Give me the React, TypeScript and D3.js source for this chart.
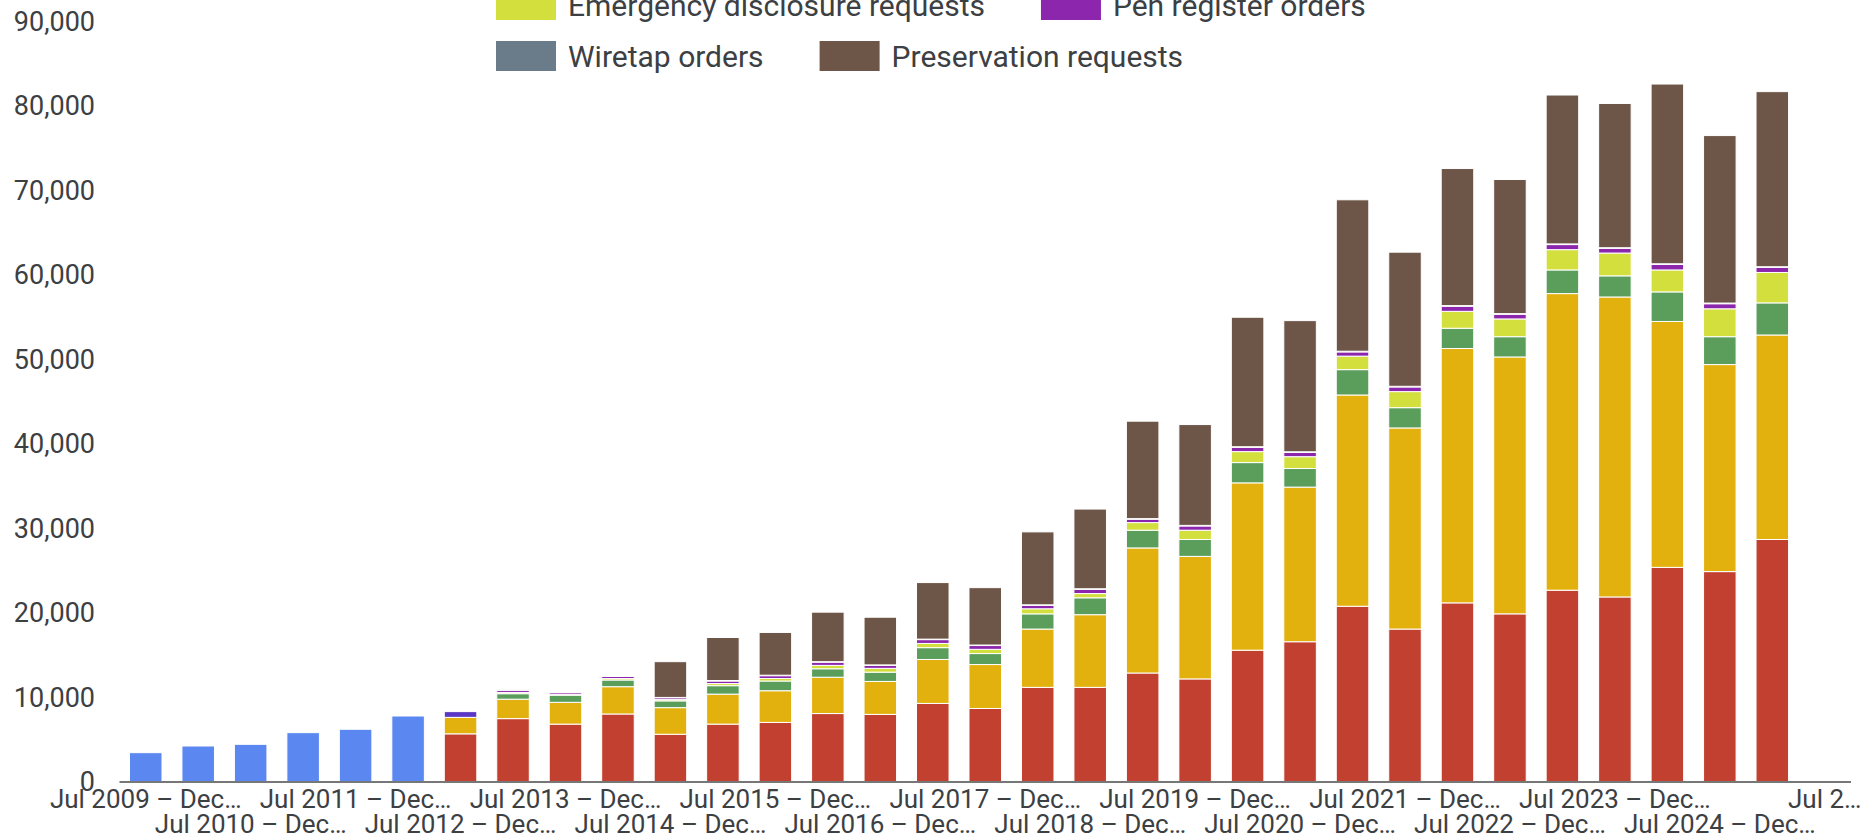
import React, { useMemo } from "react";
import * as d3 from "d3";

const categories = [
  "Jul 2009 – Dec 2009", "Jan 2010 – Jun 2010", "Jul 2010 – Dec 2010", "Jan 2011 – Jun 2011",
  "Jul 2011 – Dec 2011", "Jan 2012 – Jun 2012", "Jul 2012 – Dec 2012", "Jan 2013 – Jun 2013",
  "Jul 2013 – Dec 2013", "Jan 2014 – Jun 2014", "Jul 2014 – Dec 2014", "Jan 2015 – Jun 2015",
  "Jul 2015 – Dec 2015", "Jan 2016 – Jun 2016", "Jul 2016 – Dec 2016", "Jan 2017 – Jun 2017",
  "Jul 2017 – Dec 2017", "Jan 2018 – Jun 2018", "Jul 2018 – Dec 2018", "Jan 2019 – Jun 2019",
  "Jul 2019 – Dec 2019", "Jan 2020 – Jun 2020", "Jul 2020 – Dec 2020", "Jan 2021 – Jun 2021",
  "Jul 2021 – Dec 2021", "Jan 2022 – Jun 2022", "Jul 2022 – Dec 2022", "Jan 2023 – Jun 2023",
  "Jul 2023 – Dec 2023", "Jan 2024 – Jun 2024", "Jul 2024 – Dec 2024", "Jan 2025 – Jun 2025",
  "Jul 2025 – Dec 2025",
];

// Tick labels as displayed (every other category, truncated)
const tickLabels = [
  "Jul 2009 – Dec…", "", "Jul 2010 – Dec…", "", "Jul 2011 – Dec…", "", "Jul 2012 – Dec…", "",
  "Jul 2013 – Dec…", "", "Jul 2014 – Dec…", "", "Jul 2015 – Dec…", "", "Jul 2016 – Dec…", "",
  "Jul 2017 – Dec…", "", "Jul 2018 – Dec…", "", "Jul 2019 – Dec…", "", "Jul 2020 – Dec…", "",
  "Jul 2021 – Dec…", "", "Jul 2022 – Dec…", "", "Jul 2023 – Dec…", "", "Jul 2024 – Dec…", "",
  "Jul 2…",
];

const yTicks = [0, 10000, 20000, 30000, 40000, 50000, 60000, 70000, 80000, 90000];

const totalRequests = [3470, 4260, 4460, 5840, 6240, 7810, 0, 0, 0, 0, 0, 0, 0, 0, 0, 0, 0, 0, 0, 0, 0, 0, 0, 0, 0, 0, 0, 0, 0, 0, 0, 0, 0];
const subpoenas = [0, 0, 0, 0, 0, 0, 5700, 7500, 6850, 8050, 5650, 6850, 7050, 8100, 8000, 9300, 8700, 11200, 11200, 12900, 12200, 15600, 16600, 20800, 18100, 21200, 19900, 22700, 21900, 25400, 24900, 28700, 0];
const searchWarrants = [0, 0, 0, 0, 0, 0, 1950, 2300, 2580, 3230, 3150, 3550, 3750, 4300, 3900, 5200, 5200, 6900, 8600, 14800, 14500, 19800, 18300, 25000, 23800, 30100, 30400, 35100, 35500, 29100, 24500, 24200, 0];
const otherCourtOrders = [0, 0, 0, 0, 0, 0, 0, 650, 850, 790, 800, 1000, 1150, 1000, 1100, 1400, 1300, 1800, 2000, 2100, 2000, 2400, 2200, 3000, 2400, 2400, 2400, 2800, 2500, 3500, 3300, 3800, 0];
const otherRequests = [0, 0, 0, 0, 0, 0, 680, 0, 0, 0, 0, 0, 0, 0, 0, 0, 0, 0, 0, 0, 0, 0, 0, 0, 0, 0, 0, 0, 0, 0, 0, 0, 0];
const emergencyDisclosure = [0, 0, 0, 0, 0, 0, 0, 150, 120, 170, 150, 250, 300, 400, 450, 500, 500, 600, 500, 900, 1100, 1300, 1400, 1600, 1900, 2000, 2100, 2400, 2700, 2600, 3300, 3600, 0];
const penRegister = [0, 0, 0, 0, 0, 0, 0, 250, 200, 250, 220, 300, 330, 380, 350, 450, 450, 400, 500, 400, 500, 500, 500, 500, 550, 600, 550, 600, 550, 650, 600, 600, 0];
const wiretap = [0, 0, 0, 0, 0, 0, 0, 50, 40, 50, 40, 60, 60, 60, 60, 60, 60, 70, 70, 70, 70, 80, 80, 80, 80, 80, 80, 80, 80, 80, 80, 80, 0];
const preservation = [0, 0, 0, 0, 0, 0, 0, 0, 0, 0, 4230, 5090, 5060, 5860, 5640, 6690, 6790, 8630, 9430, 11530, 11930, 15320, 15520, 17920, 15870, 16220, 15870, 17620, 17070, 21270, 19820, 20720, 0];

const seriesKeys = ["total", "subpoenas", "warrants", "otherCourt", "other", "emergency", "pen", "wiretap", "preservation"];
const seriesColors = ["#5b87f0", "#c1402f", "#e3b10e", "#5b9e5c", "#5a38c4", "#d3df3d", "#8b26ad", "#6a7b89", "#6d5548"];

const legendNames = ["Emergency disclosure requests", "Pen register orders", "Wiretap orders", "Preservation requests"];
const legendColors = ["#d3df3d", "#8b26ad", "#6a7b89", "#6d5548"];
const legendRows = [0, 0, 1, 1];

const W = 1864;
const H = 839;
const FONT = "Roboto, 'Open Sans', sans-serif";
const TEXT = "#3c4043";
const LEGEND_FS = 30;

export default function App() {
  const rows = categories.map((c, i) => ({
    cat: c,
    total: totalRequests[i],
    subpoenas: subpoenas[i],
    warrants: searchWarrants[i],
    otherCourt: otherCourtOrders[i],
    other: otherRequests[i],
    emergency: emergencyDisclosure[i],
    pen: penRegister[i],
    wiretap: wiretap[i],
    preservation: preservation[i],
  }));

  const x = d3.scaleBand<string>().domain(categories).range([119.5, 1851]).paddingInner(0.38).paddingOuter(0.19);
  const y = d3.scaleLinear().domain([0, 90000]).range([782, 21.5]);
  const stacked = d3.stack<any>().keys(seriesKeys)(rows);
  const fmt = d3.format(",");

  const legendLayout = useMemo(() => {
    const canvas = document.createElement("canvas");
    const ctx = canvas.getContext("2d")!;
    ctx.font = `${LEGEND_FS}px Roboto`;
    const out: { x: number; row: number }[] = [];
    let cx = 496;
    let lastRow = -1;
    legendNames.forEach((n, i) => {
      if (legendRows[i] !== lastRow) {
        cx = 496;
        lastRow = legendRows[i];
      }
      out.push({ x: cx, row: legendRows[i] });
      cx += 60 + 12 + ctx.measureText(n).width + 56;
    });
    return out;
  }, []);

  const rowCenters = [5, 56];

  return (
    <svg width={W} height={H} style={{ position: "fixed", left: 0, top: 0, background: "#fff" }} fontFamily={FONT}>
      <rect x={0} y={0} width={W} height={H} fill="#fff" />
      {/* legend */}
      {legendNames.map((n, i) => {
        const L = legendLayout[i];
        const cy = rowCenters[L.row];
        return (
          <g key={n}>
            <rect x={L.x} y={cy - 15} width={60} height={30} fill={legendColors[i]} />
            <text x={L.x + 72} y={cy} dy="0.35em" fontSize={LEGEND_FS} fill={TEXT}>{n}</text>
          </g>
        );
      })}
      {/* y axis labels */}
      {yTicks.map((t) => (
        <text key={t} x={95} y={y(t)} dy="0.35em" textAnchor="end" fontSize={27} fill={TEXT}>{fmt(t)}</text>
      ))}
      {/* bars */}
      {stacked.map((s, si) => (
        <g key={s.key} fill={seriesColors[si]}>
          {s.map((d, i) => {
            const h = y(d[0]) - y(d[1]);
            if (!(h > 0)) return null;
            return (
              <rect key={i} x={x(categories[i])} y={y(d[1])} width={x.bandwidth()} height={h} stroke="#fff" strokeWidth={1} />
            );
          })}
        </g>
      ))}
      {/* baseline */}
      <line x1={119.5} x2={1851} y1={y(0)} y2={y(0)} stroke="#777" strokeWidth={2} />
      {/* x labels */}
      {tickLabels.map((t, i) => {
        if (!t) return null;
        const row = (i / 2) % 2;
        const cx = (x(categories[i]) as number) + x.bandwidth() / 2;
        return (
          <text key={i} x={cx} y={row === 0 ? 808 : 833} textAnchor="middle" fontSize={26} fill={TEXT}>{t}</text>
        );
      })}
    </svg>
  );
}
